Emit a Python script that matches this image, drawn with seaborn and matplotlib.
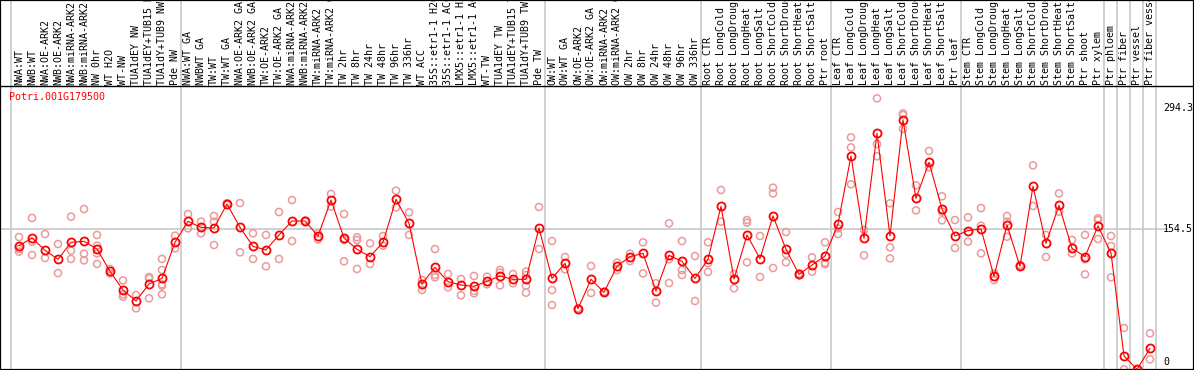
import matplotlib
matplotlib.use("Agg")
import matplotlib.pyplot as plt
import seaborn as sns
import pandas as pd

categories = [
    "NWA:WT", "NWB:WT", "NWA:OE-ARK2", "NWB:OE-ARK2", "NWA:miRNA-ARK2", "NWB:miRNA-ARK2",
    "NW 0hr", "WT H2O", "WT-NW", "TUA1dEY NW", "TUA1dEY+TUB15 NW", "TUA1dY+TUB9 NW", "Pde NW",
    "NWA:WT GA", "NWBWT GA", "TW:WT", "TW:WT GA", "NWA:OE-ARK2 GA", "NWB:OE-ARK2 GA",
    "TW:OE-ARK2", "TW:OE-ARK2 GA", "NWA:miRNA-ARK2 GA", "NWB:miRNA-ARK2 GA", "TW:miRNA-ARK2",
    "TW:miRNA-ARK2 GA", "TW 2hr", "TW 8hr", "TW 24hr", "TW 48hr", "TW 96hr", "TW 336hr",
    "WT ACC", "35S::etr1-1 H2O", "35S::etr1-1 ACC", "LMX5::etr1-1 H2O", "LMX5::etr1-1 ACC",
    "WT-TW", "TUA1dEY TW", "TUA1dEY+TUB15 TW", "TUA1dY+TUB9 TW", "Pde TW",
    "OW:WT", "OW:WT GA", "OW:OE-ARK2", "OW:OE-ARK2 GA", "OW:miRNA-ARK2", "OW:miRNA-ARK2 GA",
    "OW 2hr", "OW 8hr", "OW 24hr", "OW 48hr", "OW 96hr", "OW 336hr",
    "Root CTR", "Root LongCold", "Root LongDrought", "Root LongHeat", "Root LongSalt",
    "Root ShortCold", "Root ShortDrought", "Root ShortHeat", "Root ShortSalt", "Ptr root",
    "Leaf CTR", "Leaf LongCold", "Leaf LongDrought", "Leaf LongHeat", "Leaf LongSalt",
    "Leaf ShortCold", "Leaf ShortDrought", "Leaf ShortHeat", "Leaf ShortSalt", "Ptr leaf",
    "Stem CTR", "Stem LongCold", "Stem LongDrought", "Stem LongHeat", "Stem LongSalt",
    "Stem ShortCold", "Stem ShortDrought", "Stem ShortHeat", "Stem ShortSalt", "Ptr shoot",
    "Ptr xylem", "Ptr phloem", "Ptr fiber", "Ptr vessel", "Ptr fiber vessel",
]

mean_values = [
    134.8, 143.7, 129.4, 119.0, 138.7, 139.8, 130.9, 105.1, 83.4, 70.7, 90.4, 96.9, 138.7,
    163.0, 156.0, 155.3, 183.1, 156.0, 134.0, 129.8, 147.2, 163.4, 163.4, 146.0, 187.7,
    143.7, 130.6, 122.1, 138.7, 188.5, 160.7, 90.4, 109.7, 93.1, 89.2, 87.7, 93.5, 99.7,
    95.8, 95.8, 155.3, 96.9, 114.3, 61.8, 95.8, 80.7, 110.9, 122.1, 125.9, 82.3, 123.6,
    116.7, 96.9, 119.0, 180.4, 96.2, 147.2, 119.7, 169.2, 130.6, 101.6, 112.4, 122.8,
    159.9, 238.7, 143.3, 265.0, 146.0, 280.4, 189.6, 231.4, 177.3, 146.0, 152.2, 154.1,
    99.3, 158.7, 110.9, 203.6, 137.5, 181.5, 131.7, 122.1, 157.6, 126.3, 7.0, -8.5, 15.8,
]

replicate_values = [
    [144.8, 130.9, 127.8], [166.9, 139.4, 124.0], [148.3, 120.5], [136.7, 103.1],
    [168.4, 129.0, 119.4], [177.3, 125.5, 117.8], [147.2, 134.8, 125.9, 113.6],
    [107.8, 102.7], [94.6, 78.4, 75.7], [77.6, 62.2], [98.5, 96.9, 73.8],
    [119.4, 106.6, 90.0, 88.4, 78.4], [146.4, 131.7], [171.5, 154.9], [162.6, 149.1],
    [169.2, 162.6, 135.6], [182.0, 184.0], [184.2, 127.1], [149.1, 119.4], [147.2, 110.9],
    [173.8, 119.4], [187.7, 140.2], [163.0, 164.0], [149.1, 142.1], [194.7, 180.0],
    [171.5, 141.4, 116.7], [144.5, 141.4, 107.8], [137.5, 113.6], [146.0, 134.8],
    [198.5, 179.2], [173.4, 147.2], [95.0, 83.4], [130.9, 100.8, 98.1], [102.0, 86.5],
    [96.2, 77.3], [99.7, 82.3, 79.6], [98.9, 90.0], [106.6, 103.5, 88.8], [102.0, 91.2],
    [104.7, 100.8, 88.4, 80.3], [179.6, 130.9], [140.2, 83.4, 66.0], [121.7, 107.4],
    [61.8, 62.5], [111.2, 80.0], [80.7, 81.5], [115.1, 106.6], [125.5, 117.0],
    [138.7, 102.7], [91.2, 68.8], [160.7, 119.0, 91.5], [140.2, 106.6, 100.8],
    [122.8, 70.7], [138.7, 114.3, 104.3], [199.3, 162.6], [102.0, 85.4],
    [164.5, 161.5, 115.5], [146.0, 98.5], [202.0, 195.4, 108.9], [150.6, 125.1, 115.5],
    [102.5, 100.5], [121.3, 104.7], [138.7, 115.1, 113.2], [173.8, 154.9, 148.3],
    [260.3, 248.7, 205.9], [153.0, 123.6], [305.5, 252.6, 238.3], [183.9, 132.9, 120.1],
    [288.1, 286.2, 270.0], [204.7, 175.7], [244.5, 225.6], [192.0, 174.2, 164.2],
    [164.5, 132.1], [167.6, 139.4], [178.4, 158.0, 125.9], [102.7, 95.0],
    [169.2, 162.6, 145.2], [112.4, 111.5], [227.9, 180.8], [147.2, 121.7], [195.4, 174.2],
    [141.4, 125.9], [147.2, 119.0, 101.6], [166.5, 164.5, 142.5], [146.0, 134.4, 98.1],
    [39.4, -8.5], [-8.5, -8.5], [33.2, 3.1],
]

axis_ticks = [294.3, 154.5, 0]
axis_tick_labels = ["294.3", "154.5", "0"]
gene_name = "Potri.001G179500"
group_bounds = [-0.62, 12.5, 40.5, 52.5, 62.5, 72.5, 83.5, 84.5, 85.5, 86.5, 87.5]

sns.set_style("white")
plt.rcParams["font.family"] = ["DejaVu Sans Mono", "DejaVu Sans"]

fig = plt.figure(figsize=(11.94, 3.70), dpi=100)
ax = fig.add_axes([0, 0, 1, 1])

idx = list(range(len(categories)))
mean_df = pd.DataFrame({"x": idx, "v": mean_values})
rx, rv = [], []
for i, reps in enumerate(replicate_values):
    for r in reps:
        rx.append(i)
        rv.append(r)
rep_df = pd.DataFrame({"x": rx, "v": rv})

grid_c = "#c4c4c4"
for b in group_bounds:
    ax.axvline(b, color=grid_c, lw=1.1, zorder=0)
ax.hlines(154.5, -1.5, 88.4, color=grid_c, lw=1.1, zorder=0)
ax.axhline(319.8, color="black", lw=1.0, zorder=1)

sns.scatterplot(data=rep_df, x="x", y="v", ax=ax, s=26, marker="o",
                facecolor="none", edgecolor="#eb9a9a", linewidth=1.1, zorder=2, legend=False)
sns.lineplot(data=mean_df, x="x", y="v", ax=ax, color="red", lw=0.8, marker="o",
             markersize=5.8, markerfacecolor="none", markeredgecolor="red",
             markeredgewidth=1.3, zorder=3, legend=False)

ax.set_xlim(-1.4615, 90.385)
ax.set_ylim(-9.27, 419.47)
ax.set_xticks([])
ax.set_yticks([])
ax.set_xlabel("")
ax.set_ylabel("")
for s in ax.spines.values():
    s.set_visible(True)
    s.set_color("black")
    s.set_linewidth(1.6)

tr = ax.get_xaxis_transform()
for i, c in enumerate(categories):
    ax.text(i, 0.770, c, transform=tr, rotation=90, rotation_mode="anchor",
            ha="left", va="center", fontsize=7.2, color="black")

ax.text(-0.77, 307.1, gene_name, ha="left", va="center", fontsize=7.2, color="red")
for t, lab in zip(axis_ticks, axis_tick_labels):
    ax.text(88.0, t, lab, ha="left", va="center", fontsize=7.2, color="black")

fig.savefig("out.png", dpi=100)
